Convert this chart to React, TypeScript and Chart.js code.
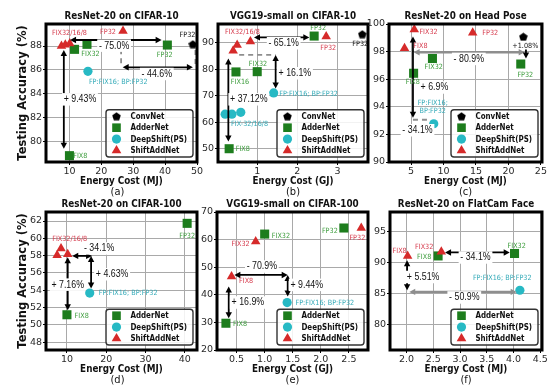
import React, { useEffect, useRef } from 'react';
import { Chart, registerables } from 'chart.js';
Chart.register(...registerables);

// ---------------- data ----------------
const SERIES_NAMES = ['ConvNet', 'AdderNet', 'DeepShift(PS)', 'ShiftAddNet'];
const SERIES_KEYS = ['conv', 'adder', 'ds', 'san'];
const PANEL_IDS = ['a', 'b', 'c', 'd', 'e', 'f'];
const PANEL_TITLES = ['ResNet-20 on CIFAR-10', 'VGG19-small on CIFAR-10', 'ResNet-20 on Head Pose', 'ResNet-20 on CIFAR-100', 'VGG19-small on CIFAR-100', 'ResNet-20 on FlatCam Face'];
const PANEL_XLABELS = ['Energy Cost (MJ)', 'Energy Cost (GJ)', 'Energy Cost (MJ)', 'Energy Cost (MJ)', 'Energy Cost (GJ)', 'Energy Cost (MJ)'];
const Y_LABEL = 'Testing Accuracy (%)';

// (a) ResNet-20 on CIFAR-10
const A_X_TICKS = [10, 20, 30, 40, 50];
const A_Y_TICKS = [80, 82, 84, 86, 88];
const A_CONV_X = [48.7]; const A_CONV_Y = [88.15];
const A_ADDER_X = [11.6, 15.5, 40.7, 10.0]; const A_ADDER_Y = [87.72, 88.14, 88.08, 78.83];
const A_DS_X = [15.8]; const A_DS_Y = [85.88];
const A_SAN_X = [7.5, 8.7, 10.1, 26.8]; const A_SAN_Y = [88.0, 88.1, 88.2, 89.25];
const A_LABELS = [[10.0, 89.06, 'FIX32/16/8', 'san'], [22.1, 89.2, 'FP32', 'san'], [16.6, 87.3, 'FIX32', 'adder'], [39.9, 87.25, 'FP32', 'adder'], [47.0, 88.92, 'FP32', 'conv'], [13.4, 78.8, 'FIX8', 'adder'], [25.3, 84.99, 'FP:FIX16; BP:FP32', 'ds']];
const A_NOTES = [[24.0, 88.03, '- 75.0%'], [37.4, 85.66, '- 44.6%'], [13.3, 83.54, '+ 9.43%']];
const A_ARROWS = [[10.2, 88.5, 38.9, 88.5, 'both'], [26.2, 87.72, 26.2, 86.3, 'dash'], [49.5, 87.67, 49.5, 86.25, 'dash'], [26.7, 86.22, 48.7, 86.22, 'both'], [8.24, 87.67, 8.24, 79.4, 'both']];

// (b) VGG19-small on CIFAR-10
const B_X_TICKS = [1, 2, 3];
const B_Y_TICKS = [50, 60, 70, 80, 90];
const B_CONV_X = [3.62]; const B_CONV_Y = [93.2];
const B_ADDER_X = [2.42, 1.0, 0.47, 0.30]; const B_ADDER_Y = [92.5, 79.1, 79.0, 50.1];
const B_DS_X = [1.41, 0.20, 0.37, 0.59]; const B_DS_Y = [71.1, 63.1, 63.1, 63.8];
const B_SAN_X = [2.72, 0.40, 0.50, 0.83]; const B_SAN_Y = [92.3, 87.0, 89.1, 90.5];
const B_LABELS = [[3.57, 89.4, 'FP32', 'conv'], [2.52, 95.4, 'FP32', 'adder'], [2.77, 87.9, 'FP32', 'san'], [1.02, 81.9, 'FIX32', 'adder'], [0.57, 75.1, 'FIX16', 'adder'], [0.64, 49.9, 'FIX8', 'adder'], [2.28, 70.6, 'FP:FIX16; BP:FP32', 'ds'], [0.81, 59.3, 'FIX-32/16/8', 'ds'], [0.63, 93.9, 'FIX32/16/8', 'san']];
const B_NOTES = [[1.66, 89.8, '- 65.1%'], [1.94, 78.5, '+ 16.1%'], [0.79, 68.7, '+ 37.12%']];
const B_ARROWS = [[0.92, 92.0, 2.3, 92.0, 'both'], [0.55, 85.4, 1.46, 85.4, 'dash'], [1.46, 85.4, 1.46, 72.8, 'both'], [0.28, 84.1, 0.28, 52.8, 'both']];

// (c) ResNet-20 on Head Pose
const C_X_TICKS = [5, 10, 15, 20, 25];
const C_Y_TICKS = [90, 92, 94, 96, 98, 100];
const C_CONV_X = [22.3]; const C_CONV_Y = [99.08];
const C_ADDER_X = [21.9, 8.3, 5.4]; const C_ADDER_Y = [97.1, 97.5, 96.43];
const C_DS_X = [8.5]; const C_DS_Y = [92.77];
const C_SAN_X = [5.5, 4.0, 14.5]; const C_SAN_Y = [99.6, 98.24, 99.37];
const C_LABELS = [[22.6, 98.41, '+1.08%', 'conv'], [22.6, 96.31, 'FP32', 'adder'], [8.5, 96.87, 'FIX32', 'adder'], [5.28, 95.78, 'FIX8', 'adder'], [8.35, 94.27, 'FP:FIX16;', 'ds'], [8.35, 93.66, 'BP:FP32', 'ds'], [7.7, 99.44, 'FIX32', 'san'], [6.45, 98.36, 'FIX8', 'san'], [17.2, 99.33, 'FP32', 'san']];
const C_NOTES = [[13.9, 97.47, '- 80.9%'], [8.6, 95.4, '+ 6.9%'], [6.0, 92.3, '- 34.1%']];
const C_ARROWS = [[5.4, 97.95, 22.5, 97.95, 'gray'], [22.7, 98.15, 22.7, 97.5, 'single'], [5.3, 99.1, 5.3, 93.2, 'both'], [5.3, 93.06, 7.8, 93.06, 'dash']];

// (d) ResNet-20 on CIFAR-100
const D_X_TICKS = [10, 20, 30, 40];
const D_Y_TICKS = [48, 50, 52, 54, 56, 58, 60, 62];
const D_ADDER_X = [40.6, 10.0]; const D_ADDER_Y = [61.73, 51.17];
const D_DS_X = [15.8]; const D_DS_Y = [53.68];
const D_SAN_X = [7.5, 8.5, 10.2]; const D_SAN_Y = [58.05, 58.83, 58.17];
const D_LABELS = [[40.6, 60.3, 'FP32', 'adder'], [13.75, 50.98, 'FIX8', 'adder'], [25.6, 53.68, 'FP:FIX16; BP:FP32', 'ds'], [10.7, 59.88, 'FIX32/16/8', 'san']];
const D_NOTES = [[18.2, 58.83, '- 34.1%'], [21.5, 55.85, '+ 4.63%'], [10.2, 54.65, '+ 7.16%']];
const D_ARROWS = [[11.35, 57.97, 16.4, 57.97, 'both'], [16.15, 57.97, 16.15, 54.2, 'both'], [10.2, 57.8, 10.2, 51.7, 'both']];

// (e) VGG19-small on CIFAR-100
const E_X_TICKS = [0.5, 1.0, 1.5, 2.0, 2.5];
const E_Y_TICKS = [20, 30, 40, 50, 60, 70];
const E_ADDER_X = [1.0, 2.41, 0.31]; const E_ADDER_Y = [62.0, 64.2, 29.7];
const E_DS_X = [1.40]; const E_DS_Y = [37.2];
const E_SAN_X = [0.84, 2.72, 0.41]; const E_SAN_Y = [59.3, 64.2, 46.6];
const E_LABELS = [[1.29, 61.1, 'FIX32', 'adder'], [2.16, 63.2, 'FP32', 'adder'], [0.56, 29.4, 'FIX8', 'adder'], [2.07, 37.0, 'FP:FIX16; BP:FP32', 'ds'], [0.57, 58.4, 'FIX32', 'san'], [2.65, 60.6, 'FP32', 'san'], [0.67, 44.8, 'FIX8', 'san']];
const E_NOTES = [[0.95, 50.25, '- 70.9%'], [1.75, 43.6, '+ 9.44%'], [0.70, 37.2, '+ 16.9%']];
const E_ARROWS = [[0.46, 47.2, 1.41, 47.2, 'both'], [1.41, 47.2, 1.41, 39.4, 'both'], [0.36, 43.0, 0.36, 31.5, 'both']];

// (f) ResNet-20 on FlatCam Face
const F_X_TICKS = [2.0, 2.5, 3.0, 3.5, 4.0, 4.5];
const F_Y_TICKS = [80, 85, 90, 95];
const F_ADDER_X = [2.59, 4.02]; const F_ADDER_Y = [91.1, 91.5];
const F_DS_X = [4.12]; const F_DS_Y = [85.56];
const F_SAN_X = [2.02, 2.65]; const F_SAN_Y = [91.1, 91.76];
const F_LABELS = [[2.33, 90.95, 'FIX8', 'adder'], [4.06, 92.73, 'FIX32', 'adder'], [3.79, 87.45, 'FP:FIX16; BP:FP32', 'ds'], [1.87, 91.92, 'FIX8', 'san'], [2.33, 92.57, 'FIX32', 'san']];
const F_NOTES = [[3.29, 90.85, '- 34.1%'], [2.31, 87.7, '+ 5.51%'], [3.08, 84.4, '- 50.9%']];
const F_ARROWS = [[2.72, 91.66, 3.93, 91.66, 'both'], [2.01, 90.4, 2.01, 85.55, 'both'], [2.05, 85.3, 4.06, 85.3, 'gray']];

// axis ranges
const X_RANGES = [[2.65, 50.0], [0.022, 3.763], [1.61, 25.17], [4.67, 43.11], [0.151, 2.84], [1.69, 4.534]];
const Y_RANGES = [[78.3, 89.84], [45.1, 97.04], [90, 100], [47.1, 63.04], [20, 70], [75.92, 98.19]];
const X_DECIMALS = [0, 0, 0, 0, 1, 1];

// ---------------- layout / style ----------------
const FRAMES = [[46, 24, 197, 162], [218, 24, 368, 162], [389, 24, 542, 162], [46, 212, 197, 350], [217, 212, 368, 350], [390, 212, 542, 350]];
const PADL = 46, PADT = 24, PADR = 8, PADB = 44, YW = 24, XH = 16;
const COLORS = { conv: '#000000', adder: '#1d7d1d', ds: '#27b9c4', san: '#d62a2a' };
const LABEL_COLORS = { conv: '#111111', adder: '#3c9c3c', ds: '#33aab8', san: '#d63a4c' };
const GRID = '#a9a9a9';
const DV = '"DejaVu Sans", sans-serif';
const LIB = '"Liberation Sans", Arial, sans-serif';

const PANELS = PANEL_IDS.map((id, i) => {
  const sets = [
    { conv: [A_CONV_X, A_CONV_Y], adder: [A_ADDER_X, A_ADDER_Y], ds: [A_DS_X, A_DS_Y], san: [A_SAN_X, A_SAN_Y] },
    { conv: [B_CONV_X, B_CONV_Y], adder: [B_ADDER_X, B_ADDER_Y], ds: [B_DS_X, B_DS_Y], san: [B_SAN_X, B_SAN_Y] },
    { conv: [C_CONV_X, C_CONV_Y], adder: [C_ADDER_X, C_ADDER_Y], ds: [C_DS_X, C_DS_Y], san: [C_SAN_X, C_SAN_Y] },
    { adder: [D_ADDER_X, D_ADDER_Y], ds: [D_DS_X, D_DS_Y], san: [D_SAN_X, D_SAN_Y] },
    { adder: [E_ADDER_X, E_ADDER_Y], ds: [E_DS_X, E_DS_Y], san: [E_SAN_X, E_SAN_Y] },
    { adder: [F_ADDER_X, F_ADDER_Y], ds: [F_DS_X, F_DS_Y], san: [F_SAN_X, F_SAN_Y] },
  ][i];
  return {
    id, index: i,
    title: PANEL_TITLES[i], xlabel: PANEL_XLABELS[i], ylabel: i % 3 === 0,
    xt: [A_X_TICKS, B_X_TICKS, C_X_TICKS, D_X_TICKS, E_X_TICKS, F_X_TICKS][i],
    yt: [A_Y_TICKS, B_Y_TICKS, C_Y_TICKS, D_Y_TICKS, E_Y_TICKS, F_Y_TICKS][i],
    xr: X_RANGES[i], yr: Y_RANGES[i], dec: X_DECIMALS[i],
    sets,
    labels: [A_LABELS, B_LABELS, C_LABELS, D_LABELS, E_LABELS, F_LABELS][i],
    notes: [A_NOTES, B_NOTES, C_NOTES, D_NOTES, E_NOTES, F_NOTES][i],
    arrows: [A_ARROWS, B_ARROWS, C_ARROWS, D_ARROWS, E_ARROWS, F_ARROWS][i],
    frame: FRAMES[i],
  };
});

function makePentagon(size: number, color: string) {
  const c = document.createElement('canvas');
  c.width = size; c.height = size;
  const g = c.getContext('2d')!;
  g.fillStyle = color;
  g.beginPath();
  const r = size / 2;
  for (let k = 0; k < 5; k++) {
    const a = -Math.PI / 2 + (k * 2 * Math.PI) / 5;
    const px = r + r * Math.cos(a);
    const py = r + r * Math.sin(a) + r * 0.1;
    if (k === 0) g.moveTo(px, py); else g.lineTo(px, py);
  }
  g.closePath();
  g.fill();
  return c;
}

function drawText(ctx: CanvasRenderingContext2D, text: string, x: number, y: number, o: any) {
  ctx.save();
  ctx.font = o.font;
  ctx.textBaseline = 'middle';
  ctx.textAlign = o.align || 'center';
  ctx.translate(x, y);
  if (o.rot) ctx.rotate(o.rot);
  ctx.scale(o.sx ?? 1, 1);
  if (o.bg) {
    const w = ctx.measureText(text).width;
    const h = o.size;
    ctx.fillStyle = '#ffffff';
    ctx.fillRect(-w / 2 - 2, -h / 2 - 1, w + 4, h + 2);
  }
  ctx.fillStyle = o.color;
  ctx.fillText(text, 0, 0);
  ctx.restore();
}

function drawArrow(ctx: CanvasRenderingContext2D, x1: number, y1: number, x2: number, y2: number, kind: string) {
  const gray = kind === 'gray' || kind === 'dash';
  const color = gray ? '#8e8e8e' : '#000000';
  const lw = kind === 'gray' ? 2.4 : 1.8;
  const heads = kind === 'dash' ? 0 : kind === 'single' ? 1 : 2;
  const ang = Math.atan2(y2 - y1, x2 - x1);
  const HL = 6, HW = 3.2;
  const cs = Math.cos(ang), sn = Math.sin(ang);
  let sx = x1, sy = y1, ex = x2, ey = y2;
  if (heads === 2) { sx += cs * HL * 0.8; sy += sn * HL * 0.8; }
  if (heads >= 1) { ex -= cs * HL * 0.8; ey -= sn * HL * 0.8; }
  ctx.save();
  ctx.strokeStyle = color;
  ctx.lineWidth = lw;
  if (kind === 'dash') ctx.setLineDash([5, 4]);
  ctx.beginPath();
  ctx.moveTo(sx, sy);
  ctx.lineTo(ex, ey);
  ctx.stroke();
  ctx.setLineDash([]);
  ctx.fillStyle = color;
  const head = (hx: number, hy: number, a: number) => {
    const c = Math.cos(a), s = Math.sin(a);
    ctx.beginPath();
    ctx.moveTo(hx, hy);
    ctx.lineTo(hx - HL * c + HW * s, hy - HL * s - HW * c);
    ctx.lineTo(hx - HL * c - HW * s, hy - HL * s + HW * c);
    ctx.closePath();
    ctx.fill();
  };
  if (heads >= 1) head(x2, y2, ang);
  if (heads === 2) head(x1, y1, ang + Math.PI);
  ctx.restore();
}

function drawMarker(ctx: CanvasRenderingContext2D, key: string, x: number, y: number, pent: HTMLCanvasElement) {
  ctx.save();
  ctx.fillStyle = (COLORS as any)[key];
  if (key === 'adder') {
    ctx.fillRect(x - 4.3, y - 4.3, 8.6, 8.6);
  } else if (key === 'ds') {
    ctx.beginPath(); ctx.arc(x, y, 4.6, 0, Math.PI * 2); ctx.fill();
  } else if (key === 'san') {
    const r = 5.6;
    ctx.beginPath();
    ctx.moveTo(x, y - r);
    ctx.lineTo(x + r * 0.866, y + r / 2);
    ctx.lineTo(x - r * 0.866, y + r / 2);
    ctx.closePath(); ctx.fill();
  } else {
    ctx.drawImage(pent, x - 4.5, y - 4.5, 9, 9);
  }
  ctx.restore();
}

function makeDecor(p: any, pent: HTMLCanvasElement) {
  return {
    id: 'decor_' + p.id,
    afterDatasetsDraw(chart: any) {
      const ctx = chart.ctx as CanvasRenderingContext2D;
      const xs = chart.scales.x, ys = chart.scales.y;
      const X = (v: number) => xs.getPixelForValue(v);
      const Y = (v: number) => ys.getPixelForValue(v);
      for (const a of p.arrows) drawArrow(ctx, X(a[0]), Y(a[1]), X(a[2]), Y(a[3]), a[4]);
      for (const n of p.notes) drawText(ctx, n[2], X(n[0]), Y(n[1]), { font: `10.5px ${LIB}`, size: 10.5, sx: 0.84, color: '#111', bg: true });
      for (const l of p.labels) drawText(ctx, l[2], X(l[0]), Y(l[1]), { font: `7.2px ${DV}`, size: 7.2, sx: 0.9, color: (LABEL_COLORS as any)[l[3]] });
      // legend
      const area = chart.chartArea;
      const keys = SERIES_KEYS.filter((k) => p.sets[k]);
      const n = keys.length;
      const W = 87, RH = 11.4, H = 13 + (n - 1) * RH;
      const x0 = area.right - 4 - W, y0 = area.bottom - 5 - H;
      ctx.save();
      ctx.beginPath();
      ctx.roundRect(x0, y0, W, H, 3);
      ctx.fillStyle = 'rgba(255,255,255,0.85)';
      ctx.fill();
      ctx.strokeStyle = '#333';
      ctx.lineWidth = 1.4;
      ctx.stroke();
      ctx.restore();
      keys.forEach((k, i) => {
        const cy = y0 + 6.5 + i * RH;
        drawMarker(ctx, k, x0 + 10.5, cy, pent);
        drawText(ctx, SERIES_NAMES[SERIES_KEYS.indexOf(k)], x0 + 24.4, cy, { font: `bold 9.5px ${DV}`, size: 9.5, sx: 0.75, color: '#111', align: 'left' });
      });
    },
    afterDraw(chart: any) {
      const ctx = chart.ctx as CanvasRenderingContext2D;
      const { left, top, right, bottom } = chart.chartArea;
      ctx.save();
      ctx.strokeStyle = '#000';
      ctx.lineWidth = 3;
      ctx.strokeRect(left, top, right - left, bottom - top);
      ctx.restore();
      const cx = (left + right) / 2;
      drawText(ctx, p.title, cx, top - 7.5, { font: `bold 10px ${DV}`, size: 10, sx: 0.88, color: '#111' });
      drawText(ctx, p.xlabel, cx, bottom + 19, { font: `bold 10px ${DV}`, size: 10, sx: 0.88, color: '#111' });
      drawText(ctx, '(' + p.id + ')', p.ylabel ? cx - 4 : cx, bottom + 30.5, { font: `11px ${DV}`, size: 11, sx: 0.9, color: '#111' });
      if (p.ylabel) {
        drawText(ctx, Y_LABEL, left - 22.5, (top + bottom) / 2, { font: `bold 11.5px ${DV}`, size: 11.5, sx: 1, rot: -Math.PI / 2, color: '#111' });
      }
    },
  };
}

function buildConfig(p: any, pent: HTMLCanvasElement): any {
  const styles: any = {
    conv: { pointStyle: pent, pointRadius: 4.5, order: 3 },
    adder: { pointStyle: 'rect', pointRadius: 6.4, order: 2 },
    ds: { pointStyle: 'circle', pointRadius: 4.6, order: 1 },
    san: { pointStyle: 'triangle', pointRadius: 5.5, order: 0 },
  };
  const datasets = SERIES_KEYS.filter((k) => p.sets[k]).map((k) => {
    const [xs, ys] = p.sets[k];
    return {
      label: SERIES_NAMES[SERIES_KEYS.indexOf(k)],
      data: xs.map((x: number, j: number) => ({ x, y: ys[j] })),
      backgroundColor: (COLORS as any)[k],
      borderColor: (COLORS as any)[k],
      borderWidth: 0,
      pointHoverRadius: styles[k].pointRadius,
      ...styles[k],
    };
  });
  const tickFont = { family: 'DejaVu Sans', size: 9.5 };
  return {
    type: 'scatter',
    data: { datasets },
    options: {
      animation: false,
      responsive: false,
      devicePixelRatio: 1,
      events: [],
      layout: { padding: { left: PADL - YW, top: PADT, right: PADR, bottom: PADB - XH } },
      plugins: { legend: { display: false }, tooltip: { enabled: false }, title: { display: false } },
      scales: {
        x: {
          type: 'linear', min: p.xr[0], max: p.xr[1],
          afterBuildTicks: (s: any) => { s.ticks = p.xt.map((v: number) => ({ value: v })); },
          afterFit: (s: any) => { s.height = XH; },
          ticks: { font: tickFont, color: '#2a2a2a', padding: 1, maxRotation: 0, autoSkip: false, callback: (v: any) => Number(v).toFixed(p.dec) },
          grid: { color: GRID, lineWidth: 1, tickLength: 3, tickColor: '#000', drawTicks: true },
          border: { display: false },
        },
        y: {
          type: 'linear', min: p.yr[0], max: p.yr[1],
          afterBuildTicks: (s: any) => { s.ticks = p.yt.map((v: number) => ({ value: v })); },
          afterFit: (s: any) => { s.width = YW; },
          ticks: { font: tickFont, color: '#2a2a2a', padding: 1, autoSkip: false, callback: (v: any) => String(v) },
          grid: { color: GRID, lineWidth: 1, tickLength: 3, tickColor: '#000', drawTicks: true },
          border: { display: false },
        },
      },
    },
    plugins: [makeDecor(p, pent)],
  };
}

export default function App() {
  const refs = useRef<(HTMLCanvasElement | null)[]>([]);
  useEffect(() => {
    const pent = makePentagon(9, COLORS.conv);
    const charts = PANELS.map((p, i) => new Chart(refs.current[i]!, buildConfig(p, pent)));
    return () => charts.forEach((c) => c.destroy());
  }, []);
  return (
    <div style={{ position: 'fixed', left: 0, top: 0, width: 547, height: 392, overflow: 'hidden', background: '#fff' }}>
      {PANELS.map((p, i) => {
        const [L, T, R, B] = p.frame;
        const w = R - L + PADL + PADR;
        const h = B - T + PADT + PADB;
        return (
          <canvas
            key={p.id}
            ref={(el) => { refs.current[i] = el; }}
            width={w}
            height={h}
            style={{ position: 'absolute', left: L - PADL, top: T - PADT, width: w, height: h }}
          />
        );
      })}
    </div>
  );
}
